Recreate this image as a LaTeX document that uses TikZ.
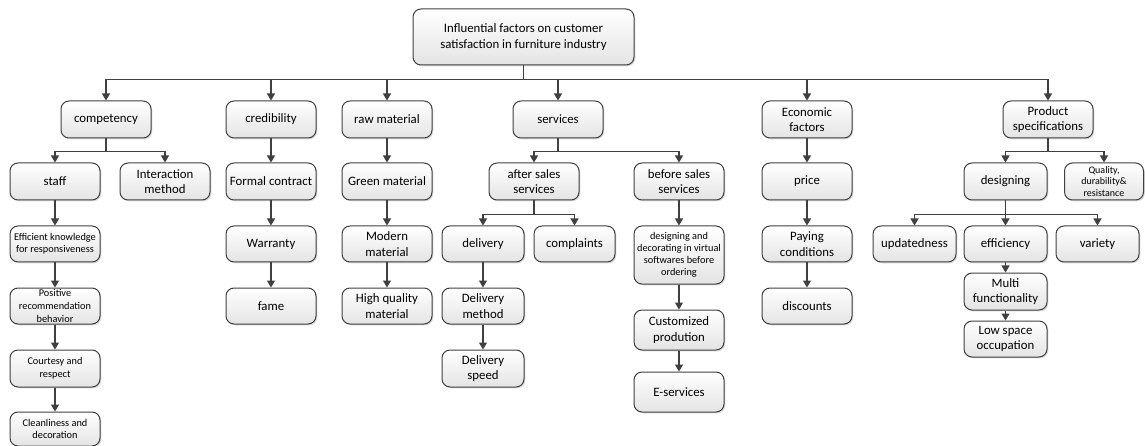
\documentclass[tikz,border=0pt]{standalone}
\usepackage{fontspec}
\setmainfont{Carlito}
\usetikzlibrary{arrows.meta,shadows}
\definecolor{linec}{HTML}{404040}
\definecolor{boxbot}{HTML}{E4E4E4}
\begin{document}
\begin{tikzpicture}[x=1pt,y=-1pt,
  box/.style={draw=linec, line width=1pt, rounded corners=8pt, top color=white, bottom color=boxbot,
    drop shadow={shadow xshift=1.3pt, shadow yshift=-1.3pt, opacity=0.3, fill=gray},
    align=center, inner sep=1pt, minimum width=90pt, minimum height=37pt,
    font=\fontsize{12.8}{15.5}\selectfont},
  sm/.style={font=\fontsize{10.3}{12}\selectfont},
  arr/.style={draw=linec, line width=1.3pt, -{Triangle[width=8pt,length=7pt]}},
  ln/.style={draw=linec, line width=1.3pt}]
\useasboundingbox (0,0) rectangle (1145,446);
% root
\node[box, minimum width=221pt, minimum height=56pt] (root) at (523.5,37) {Influential factors on customer\\satisfaction in furniture industry};
% level 1
\node[box] (comp) at (106,119.5) {competency};
\node[box] (cred) at (271,119.5) {credibility};
\node[box] (raw) at (387,119.5) {raw material};
\node[box] (serv) at (558,119.5) {services};
\node[box] (econ) at (807,119.5) {Economic\\factors};
\node[box] (prod) at (1048,119.5) {Product\\specifications};
% level 2
\node[box] (staff) at (55,181.5) {staff};
\node[box] (inter) at (165,181.5) {Interaction\\method};
\node[box] (formal) at (271,181.5) {Formal contract};
\node[box] (green) at (387,181.5) {Green material};
\node[box] (after) at (534,181.5) {after sales\\services};
\node[box] (before) at (679,181.5) {before sales\\services};
\node[box] (price) at (807,181.5) {price};
\node[box, minimum width=83pt] (desg) at (1005.5,181.5) {designing};
\node[box, minimum width=79pt, font=\fontsize{10}{11.7}\selectfont] (qual) at (1104,181.5) {Quality,\\durability\&\\resistance};
% level 3
\node[box, sm, minimum height=36pt] (effk) at (55,244) {Efficient knowledge\\for responsiveness};
\node[box, minimum height=36pt] (warr) at (271,244) {Warranty};
\node[box, minimum height=36pt] (modern) at (387,244) {Modern\\material};
\node[box, minimum height=36pt, minimum width=82pt] (deliv) at (483,244) {delivery};
\node[box, minimum height=36pt, minimum width=81pt] (compl) at (574.5,244) {complaints};
\node[box, sm, minimum height=58pt] (virt) at (679,255) {designing and\\decorating in virtual\\softwares before\\ordering};
\node[box, minimum height=36pt] (pay) at (807,244) {Paying\\conditions};
\node[box, minimum height=36pt, minimum width=83pt] (upd) at (914.5,244) {updatedness};
\node[box, minimum height=36pt, minimum width=83pt] (effi) at (1005.5,244) {efficiency};
\node[box, minimum height=36pt, minimum width=83pt] (vari) at (1097.5,244) {variety};
% level 4
\node[box, font=\fontsize{10.3}{12.7}\selectfont, minimum height=36pt] (posi) at (55,306) {Positive\\recommendation\\behavior};
\node[box, minimum height=36pt] (fame) at (271,306) {fame};
\node[box, minimum height=36pt] (high) at (387,306) {High quality\\material};
\node[box, minimum height=36pt, minimum width=82pt] (dmeth) at (483,306) {Delivery\\method};
\node[box, minimum height=40pt] (cust) at (679,330) {Customized\\prodution};
\node[box, minimum height=36pt] (disc) at (807,306) {discounts};
\node[box, minimum height=37pt, minimum width=83pt] (multi) at (1005.5,291.5) {Multi\\functionality};
\node[box, minimum height=36pt, minimum width=83pt] (low) at (1005.5,339) {Low space\\occupation};
% level 5
\node[box, font=\fontsize{10.3}{13.3}\selectfont] (court) at (55,368.5) {Courtesy and\\respect};
\node[box, minimum width=82pt] (dspeed) at (483,368.5) {Delivery\\speed};
\node[box, minimum height=40pt] (eserv) at (679,392) {E-services};
% level 6
\node[box, sm, minimum height=34pt] (clean) at (55,429) {Cleanliness and\\decoration};
% root connectors
\foreach \c in {comp,cred,raw,serv,econ,prod}
  \draw[arr] (root.south) -- ++(0,14) -| (\c.north);
% branches
\foreach \c in {staff,inter}
  \draw[arr] (comp.south) -- ++(0,13) -| (\c.north);
\foreach \c in {after,before}
  \draw[arr] (serv.south) -- ++(0,13) -| (\c.north);
\foreach \c in {desg,qual}
  \draw[arr] (prod.south) -- ++(0,13) -| (\c.north);
\foreach \c in {deliv,compl}
  \draw[arr] (after.south) -- ++(0,14) -| (\c.north);
\foreach \c in {upd,effi,vari}
  \draw[arr] (desg.south) -- ++(0,14) -| (\c.north);
% chains
\draw[arr] (staff) -- (effk);
\draw[arr] (effk) -- (posi);
\draw[arr] (posi) -- (court);
\draw[arr] (court) -- (clean);
\draw[arr] (cred) -- (formal);
\draw[arr] (formal) -- (warr);
\draw[arr] (warr) -- (fame);
\draw[arr] (raw) -- (green);
\draw[arr] (green) -- (modern);
\draw[arr] (modern) -- (high);
\draw[arr] (deliv) -- (dmeth);
\draw[arr] (dmeth) -- (dspeed);
\draw[arr] (before) -- (virt);
\draw[arr] (virt) -- (cust);
\draw[arr] (cust) -- (eserv);
\draw[arr] (econ) -- (price);
\draw[arr] (price) -- (pay);
\draw[arr] (pay) -- (disc);
\draw[arr] (effi) -- (multi);
\draw[arr] (multi) -- (low);
\end{tikzpicture}
\end{document}
